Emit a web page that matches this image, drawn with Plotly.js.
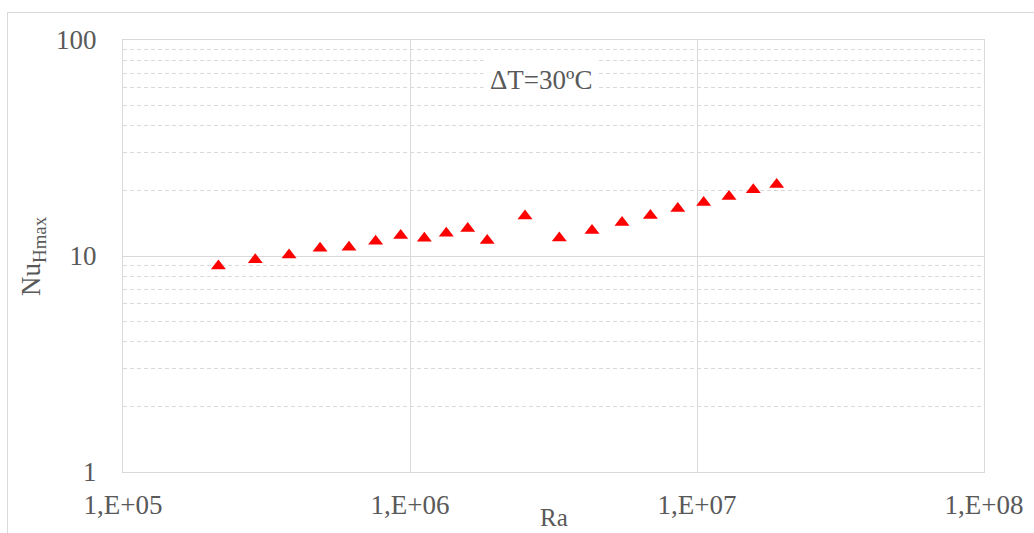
<!DOCTYPE html>
<html>
<head>
<meta charset="utf-8">
<script src="https://cdn.plot.ly/plotly-3.0.1.min.js"></script>
<style>
html,body{margin:0;padding:0;background:#fff;}
#wrap{position:relative;width:1034px;height:533px;}
#chart{position:absolute;left:0;top:0;width:1034px;height:533px;}
#frame{position:absolute;left:7px;top:12px;width:1100px;height:600px;border-left:1px solid #d9d9d9;border-top:1px solid #d9d9d9;pointer-events:none;}
</style>
</head>
<body>
<div id="wrap"><div id="chart"></div><div id="frame"></div></div>
<script>
// Data
const raValues = [2.15e5, 2.89e5, 3.79e5, 4.86e5, 6.13e5, 7.59e5, 9.28e5, 1.122e6, 1.338e6, 1.589e6, 1.858e6,
                  2.516e6, 3.313e6, 4.307e6, 5.48e6, 6.88e6, 8.57e6, 1.055e7, 1.293e7, 1.571e7, 1.895e7];
const nuValues = [8.98, 9.60, 10.11, 10.86, 10.97, 11.70, 12.43, 12.08, 12.74, 13.40, 11.81,
                  15.31, 12.10, 13.13, 14.29, 15.40, 16.59, 17.68, 18.86, 20.25, 21.43];
const xTickVals = [1e5, 1e6, 1e7, 1e8];
const xTickText = ["1,E+05", "1,E+06", "1,E+07", "1,E+08"];
const yTickVals = [1, 10, 100];
const yTickText = ["1", "10", "100"];
const xTitle = "Ra";
const yTitle = "Nu<sub>Hmax</sub>";
const note = "ΔT=30ºC";

const FONT = "Liberation Serif";
const GREY = "#595959";
const GRID = "#d9d9d9";

const trace = {
  x: raValues, y: nuValues, type: "scatter", mode: "markers",
  marker: {symbol: "triangle-up", size: 13, color: "#ff0000"},
  hoverinfo: "x+y", showlegend: false
};

const layout = {
  width: 1034, height: 533,
  margin: {l: 123, r: 50, t: 40, b: 61},
  paper_bgcolor: "#fff", plot_bgcolor: "#fff",
  font: {family: FONT, color: GREY, size: 27},
  xaxis: {
    type: "log", range: [5, 8],
    tickmode: "array", tickvals: xTickVals, ticktext: xTickText,
    showgrid: true, gridcolor: GRID, gridwidth: 1,
    showline: true, linecolor: GRID, linewidth: 1, mirror: true,
    ticks: "", ticklabelstandoff: 9,
    tickfont: {family: FONT, color: GREY, size: 27},
    zeroline: false, automargin: false
  },
  yaxis: {
    type: "log", range: [0, 2],
    tickmode: "array", tickvals: yTickVals, ticktext: yTickText,
    showgrid: true, gridcolor: GRID, gridwidth: 1,
    showline: true, linecolor: GRID, linewidth: 1, mirror: true,
    ticks: "", ticklabelstandoff: 20,
    tickfont: {family: FONT, color: GREY, size: 27},
    minor: {dtick: "D1", showgrid: true, gridcolor: GRID, gridwidth: 1, griddash: "4px,3px", ticks: ""},
    zeroline: false, automargin: false
  },
  annotations: [
    {text: note, xref: "paper", yref: "paper", x: 0.485, y: 0.907, xanchor: "center", yanchor: "middle",
     showarrow: false, bgcolor: "#fff", borderpad: 6,
     font: {family: FONT, color: GREY, size: 27}},
    {text: xTitle, xref: "paper", yref: "paper", x: 0.5, y: 0, yshift: -45, xanchor: "center", yanchor: "middle",
     showarrow: false, font: {family: FONT, color: GREY, size: 25}},
    {text: yTitle, xref: "paper", yref: "paper", x: 0, xshift: -90, y: 0.5, xanchor: "center", yanchor: "middle",
     textangle: -90, showarrow: false, font: {family: FONT, color: GREY, size: 27}}
  ]
};

Plotly.newPlot("chart", [trace], layout, {staticPlot: true, displayModeBar: false});
</script>
</body>
</html>
